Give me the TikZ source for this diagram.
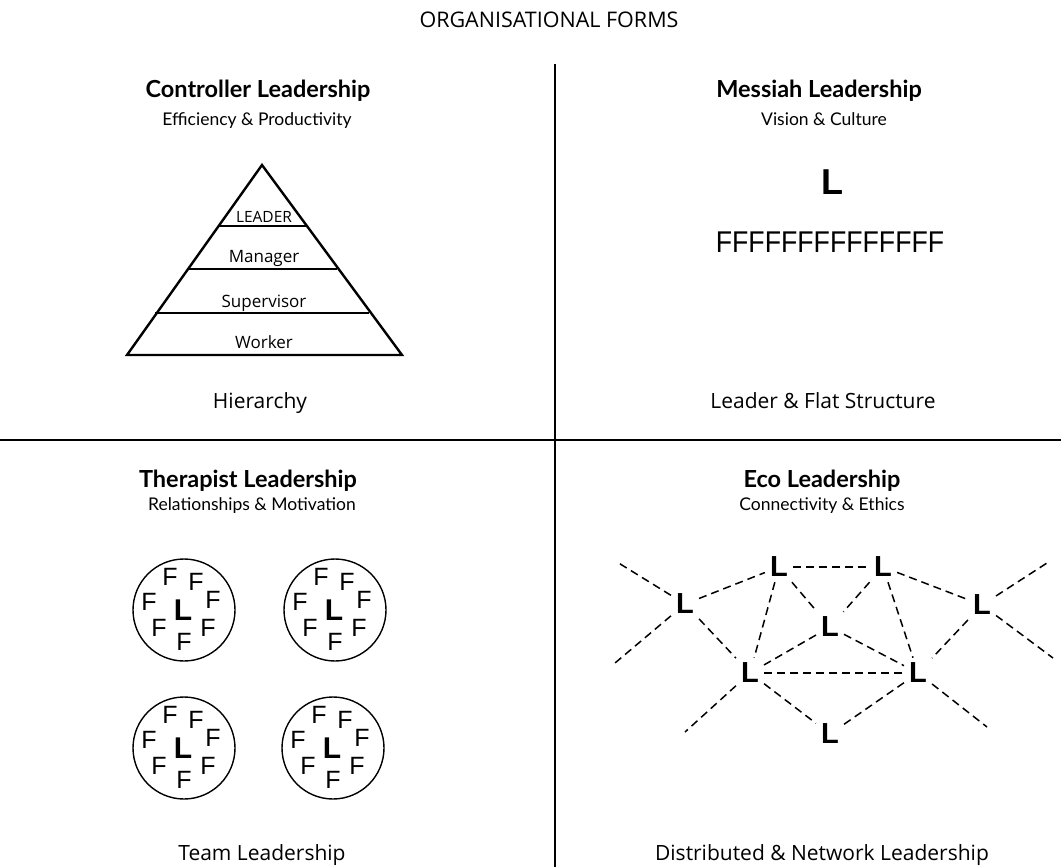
\documentclass[tikz,border=0pt]{standalone}
\usepackage{fontspec}
\setmainfont{Open Sans}
\newfontfamily\headf{Lato}
\newfontfamily\arialf{Liberation Sans}
\begin{document}
\begin{tikzpicture}[x=1pt,y=-1pt,
  title/.style={font=\fontsize{21.5}{24}\selectfont, anchor=base},
  head/.style={font=\headf\bfseries\fontsize{23.5}{26}\selectfont, anchor=base},
  sub/.style={font=\headf\fontsize{17.5}{20}\selectfont, anchor=base},
  foot/.style={font=\fontsize{21}{24}\selectfont, anchor=base},
  plabel/.style={font=\fontsize{17}{20}\selectfont, anchor=base},
  leadlabel/.style={font=\fontsize{15.5}{18}\selectfont, anchor=base},
  bigL/.style={font=\arialf\bfseries\fontsize{36}{38}\selectfont, inner sep=0pt},
  rowF/.style={font=\arialf\fontsize{30}{32}\selectfont, inner sep=0pt, xscale=0.89, transform shape},
  cL/.style={font=\arialf\bfseries\fontsize{30}{32}\selectfont, inner sep=0pt},
  cF/.style={font=\arialf\fontsize{25}{27}\selectfont, inner sep=0pt},
  netL/.style={font=\arialf\bfseries\fontsize{29}{30}\selectfont, inner sep=5pt},
  divider/.style={line width=2.5pt},
  pyr/.style={line width=2.4pt, line join=miter},
  team/.style={line width=1.4pt},
  netedge/.style={line width=1.5pt, dash pattern=on 8pt off 5pt}
]
\useasboundingbox (0,0) rectangle (1061,867);
% dividers
\coordinate (vtop) at (555,64);
\coordinate (vbot) at (555,867);
\coordinate (hl) at (0,440);
\coordinate (hr) at (1061,440);
\draw[divider] (vtop) -- (vbot);
\draw[divider] (hl) -- (hr);
% title
\node[title] (title) at (549,28) {ORGANISATIONAL FORMS};
% quadrant headings
\node[head] (h1) at (258,98) {Controller Leadership};
\node[sub] (s1) at (257,125) {Efficiency \& Productivity};
\node[head] (h2) at (819,98) {Messiah Leadership};
\node[sub] (s2) at (824,125) {Vision \& Culture};
\node[head] (h3) at (248,487) {Therapist Leadership};
\node[sub] (s3) at (252,510) {Relationships \& Motivation};
\node[head] (h4) at (822,487) {Eco Leadership};
\node[sub] (s4) at (822,510) {Connectivity \& Ethics};
\node[foot] (f1) at (260,408) {Hierarchy};
\node[foot] (f2) at (823,408) {Leader \& Flat Structure};
\node[foot] (f3) at (262,860) {Team Leadership};
\node[foot] (f4) at (822,860) {Distributed \& Network Leadership};
% pyramid
\coordinate (apex) at (262,165);
\coordinate (bl) at (127,355);
\coordinate (br) at (402,355);
\draw[pyr] (apex) -- (br) -- (bl) -- cycle;
\coordinate (a1) at (218,226); \coordinate (b1) at (306,226);
\coordinate (a2) at (187,269); \coordinate (b2) at (337,269);
\coordinate (a3) at (155,313); \coordinate (b3) at (369,313);
\draw[pyr] (a1) -- (b1);
\draw[pyr] (a2) -- (b2);
\draw[pyr] (a3) -- (b3);
\node[leadlabel] (pl1) at (264,222) {LEADER};
\node[plabel] (pl2) at (264,262) {Manager};
\node[plabel] (pl3) at (264,307) {Supervisor};
\node[plabel] (pl4) at (264,348) {Worker};
% messiah
\node[bigL] (mL) at (832,182) {L};
\node[rowF] (mF) at (830,242) {FFFFFFFFFFFFFF};
% teams
\foreach \n/\cx/\cy in {t1/184/610, t2/335/610, t3/184/748, t4/333/748}{
  \begin{scope}[shift={(\cx,\cy)}]
    \draw[team] (0,0) circle[radius=51];
    \node[cL] (\n L) at (-1,0) {L};
    \node[cF] (\n F1) at (-14,-33) {F};
    \node[cF] (\n F2) at (12,-28) {F};
    \node[cF] (\n F3) at (-35,-8) {F};
    \node[cF] (\n F4) at (29,-10) {F};
    \node[cF] (\n F5) at (-25,18) {F};
    \node[cF] (\n F6) at (24,18) {F};
    \node[cF] (\n F7) at (0,32) {F};
  \end{scope}
}
% network
\node[netL] (n1) at (779,567) {L};
\node[netL] (n2) at (883,567) {L};
\node[netL] (n3) at (685,604) {L};
\node[netL] (n4) at (982,605) {L};
\node[netL] (n5) at (830,627) {L};
\node[netL] (n6) at (750,673) {L};
\node[netL] (n7) at (918,673) {L};
\node[netL] (n8) at (830,734) {L};
\coordinate (e1) at (617,562);
\coordinate (e2) at (615,663);
\coordinate (e3) at (1047,563);
\coordinate (e4) at (1053,658);
\coordinate (e5) at (685,732);
\coordinate (e6) at (987,727);
\draw[netedge] (n1) -- (n2);
\draw[netedge] (n3) -- (n1);
\draw[netedge] (n2) -- (n4);
\draw[netedge] (n1) -- (n5);
\draw[netedge] (n2) -- (n5);
\draw[netedge] (n1) -- (n6);
\draw[netedge] (n2) -- (n7);
\draw[netedge] (n5) -- (n6);
\draw[netedge] (n5) -- (n7);
\draw[netedge] (n6) -- (n7);
\draw[netedge] (n3) -- (n6);
\draw[netedge] (n6) -- (n8);
\draw[netedge] (n8) -- (n7);
\draw[netedge] (n4) -- (n7);
\draw[netedge] (n3) -- (e1);
\draw[netedge] (n3) -- (e2);
\draw[netedge] (n4) -- (e3);
\draw[netedge] (n4) -- (e4);
\draw[netedge] (n6) -- (e5);
\draw[netedge] (n7) -- (e6);
\end{tikzpicture}
\end{document}
